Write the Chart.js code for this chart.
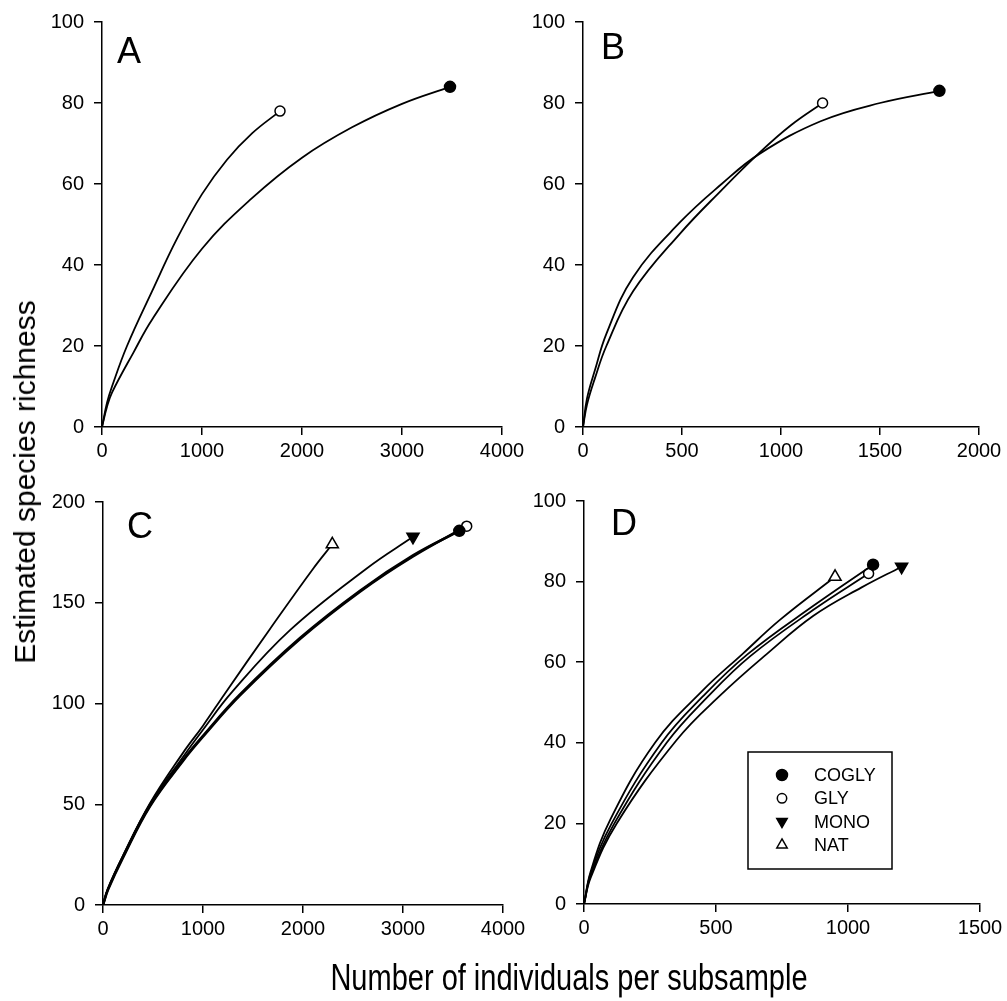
<!DOCTYPE html>
<html>
<head>
<meta charset="utf-8">
<script src="https://cdn.jsdelivr.net/npm/chart.js@4.4.0/dist/chart.umd.min.js"></script>
<style>
  html, body { margin: 0; padding: 0; background: #fff; }
  #page { position: relative; width: 1007px; height: 1001px; overflow: hidden; }
  #page canvas { position: absolute; left: 0; top: 0; }
  .ytitle {
    position: absolute; left: 24.6px; top: 482px;
    transform: translate(-50%, -50%) rotate(-90deg);
    font: 30px/30px "Liberation Sans", Arial, sans-serif;
    white-space: nowrap; color: #000;
  }
  .xtitle {
    position: absolute; left: 569px; top: 958.6px;
    transform-origin: 50% 0;
    transform: translateX(-50%) scaleY(1.28);
    font: 29px/29px "Liberation Sans", Arial, sans-serif;
    white-space: nowrap; color: #000;
  }
</style>
</head>
<body>
<div id="page">
  <canvas id="panelA" width="1007" height="1001"></canvas>
  <canvas id="panelB" width="1007" height="1001"></canvas>
  <canvas id="panelC" width="1007" height="1001"></canvas>
  <canvas id="panelD" width="1007" height="1001"></canvas>
  <div class="ytitle">Estimated species richness</div>
  <div class="xtitle">Number of individuals per subsample</div>
</div>
<script>
// panel settings
const panelLetters = ["A", "B", "C", "D"];
const panelXMax = [4000, 2000, 4000, 1500];
const panelXStep = [1000, 500, 1000, 500];
const panelYMax = [100, 100, 200, 100];
const panelYStep = [20, 20, 50, 20];

// rarefaction curves, [individuals, richness]
const A_COGLY = [[0,0],[50,5],[100,8.5],[317,18.5],[500,26.5],[1000,44],[1500,56.5],[2000,66.5],[2500,74],[3000,79.8],[3480,84]];
const A_GLY = [[0,0],[50,6],[100,10],[250,20],[500,33.5],[750,46.5],[1000,57.5],[1250,66],[1500,72.5],[1780,78]];

const B_COGLY = [[0,0],[20,7],[60,14],[118,23],[253,37],[489,50.5],[700,60],[893,67.5],[1200,75.5],[1500,80],[1800,83]];
const B_GLY = [[0,0],[20,5.5],[60,12],[118,20],[253,33.5],[489,47.7],[700,58.5],[893,67.8],[1050,74.5],[1210,80]];

const C_COGLY = [[0,0],[50,8],[200,24],[470,49.5],[800,72],[1000,84],[1370,104.5],[1970,132.5],[2570,156],[3100,173.5],[3563,185.7]];
const C_GLY = [[0,0],[50,7.5],[200,23.5],[470,49],[800,71.5],[1000,83.5],[1370,104],[1970,132],[2570,155.5],[3100,173],[3637,188]];
const C_MONO = [[0,0],[50,8],[200,24],[470,50],[800,73.5],[1000,87],[1287,105.5],[1870,136.4],[2637,167],[3100,182.7]];
const C_NAT = [[0,0],[50,8],[200,24.5],[470,50.5],[800,75.5],[1000,89],[1220,105],[1670,137],[2103,167],[2293,179]];

const D_COGLY = [[0,0],[25,7.5],[105,20],[294,40],[450,51.5],[620,62],[869,74],[1095,84.2]];
const D_GLY = [[0,0],[25,7],[115,20],[313,40],[470,51.5],[630,61.5],[869,73],[1078,82]];
const D_MONO = [[0,0],[25,6.5],[124,20],[351,40.7],[520,52],[692,62],[869,71.5],[1050,78.5],[1203,83.7]];
const D_NAT = [[0,0],[25,8],[100,21],[269,40],[450,53],[603,62.2],[742,70.5],[951,81.2]];

const panelSeries = [
  { COGLY: A_COGLY, GLY: A_GLY },
  { COGLY: B_COGLY, GLY: B_GLY },
  { COGLY: C_COGLY, GLY: C_GLY, MONO: C_MONO, NAT: C_NAT },
  { COGLY: D_COGLY, GLY: D_GLY, MONO: D_MONO, NAT: D_NAT }
];

// look of each treatment
const markerStyle = {
  COGLY: { pointStyle: "circle", fill: "#000", r: 5.5, rot: 0, legendR: 5.5 },
  GLY:   { pointStyle: "circle", fill: "#fff", r: 5, rot: 0, legendR: 4.7 },
  MONO:  { pointStyle: "triangle", fill: "#000", r: 7, rot: 180, legendR: 6 },
  NAT:   { pointStyle: "triangle", fill: "#fff", r: 7, rot: 0, legendR: 6 }
};

// plot boxes in page pixels
const areas = [
  { l: 102, t: 22, r: 502, b: 427 },
  { l: 583, t: 22, r: 979, b: 427 },
  { l: 103, t: 502, r: 503, b: 905 },
  { l: 584, t: 501, r: 980, b: 904 }
];
const letterPos = [[117, 63], [601, 59], [127, 538], [611, 535]];

const Y_W = 70, X_H = 50;
const tickFont = { family: "'Liberation Sans Narrow', 'Arial Narrow', 'Liberation Sans', sans-serif", size: 20 };

const panelLetter = {
  id: "panelLetter",
  afterDraw(chart, args, opts) {
    const ctx = chart.ctx;
    ctx.save();
    ctx.fillStyle = "#000";
    ctx.font = "36px 'Liberation Sans', Arial, sans-serif";
    ctx.textBaseline = "alphabetic";
    ctx.fillText(opts.text, opts.x, opts.y);
    ctx.restore();
  }
};

const boxLegend = {
  id: "boxLegend",
  afterDatasetsDraw(chart, args, opts) {
    if (!opts.show) return;
    const ctx = chart.ctx;
    ctx.save();
    ctx.fillStyle = "#fff";
    ctx.fillRect(opts.x, opts.y, opts.w, opts.h);
    ctx.lineWidth = 1.5;
    ctx.strokeStyle = "#000";
    ctx.strokeRect(opts.x, opts.y, opts.w, opts.h);
    chart.data.datasets.forEach((ds, i) => {
      const st = markerStyle[ds.label];
      const cy = opts.y + opts.first + i * opts.gap;
      ctx.fillStyle = st.fill;
      ctx.strokeStyle = "#000";
      ctx.lineWidth = 1.5;
      Chart.helpers.drawPoint(ctx, { pointStyle: st.pointStyle, rotation: st.rot, radius: st.legendR, borderWidth: 1.5 }, opts.mx, cy);
      ctx.fillStyle = "#000";
      ctx.font = "18px 'Liberation Sans', Arial, sans-serif";
      ctx.textBaseline = "middle";
      ctx.textAlign = "left";
      ctx.fillText(ds.label, opts.tx, cy + 1);
    });
    ctx.restore();
  }
};

function axisCommon() {
  return {
    grid: { drawOnChartArea: false, drawTicks: true, tickLength: 8, color: "#000", lineWidth: 1.5 },
    border: { display: true, color: "#000", width: 1.5 }
  };
}

panelLetters.forEach((letter, idx) => {
  const a = areas[idx];
  const series = panelSeries[idx];
  const thick = idx === 2;
  const datasets = Object.keys(series).map(name => {
    const st = markerStyle[name];
    const pts = series[name].map(p => ({ x: p[0], y: p[1] }));
    return {
      label: name,
      data: pts,
      borderColor: "#000",
      borderWidth: thick && (name === "COGLY" || name === "GLY") ? 2.5 : 1.8,
      tension: 0.4,
      pointStyle: st.pointStyle,
      pointRotation: st.rot,
      pointBackgroundColor: st.fill,
      pointBorderColor: "#000",
      pointBorderWidth: 1.5,
      pointRadius: ctx => ctx.dataIndex === pts.length - 1 ? st.r : 0,
      pointHoverRadius: ctx => ctx.dataIndex === pts.length - 1 ? st.r : 0,
      fill: false
    };
  });

  new Chart(document.getElementById("panel" + letter), {
    type: "line",
    data: { datasets },
    options: {
      responsive: false,
      animation: false,
      events: [],
      layout: {
        padding: { left: a.l - Y_W, top: a.t, right: 1007 - a.r, bottom: 1001 - a.b - X_H }
      },
      scales: {
        x: Object.assign(axisCommon(), {
          type: "linear",
          min: 0,
          max: panelXMax[idx],
          afterFit: s => { s.height = X_H; },
          ticks: { stepSize: panelXStep[idx], color: "#000", font: tickFont, padding: 4, maxRotation: 0, autoSkip: false, callback: v => String(v) }
        }),
        y: Object.assign(axisCommon(), {
          type: "linear",
          min: 0,
          max: panelYMax[idx],
          afterFit: s => { s.width = Y_W; },
          ticks: { stepSize: panelYStep[idx], color: "#000", font: tickFont, padding: 10, callback: v => String(v) }
        })
      },
      plugins: {
        legend: { display: false },
        tooltip: { enabled: false },
        panelLetter: { text: letter, x: letterPos[idx][0], y: letterPos[idx][1] },
        boxLegend: { show: idx === 3, x: 748, y: 752, w: 144, h: 117, first: 23, gap: 23.3, mx: 782, tx: 814 }
      }
    },
    plugins: [panelLetter, boxLegend]
  });
});
</script>
</body>
</html>
